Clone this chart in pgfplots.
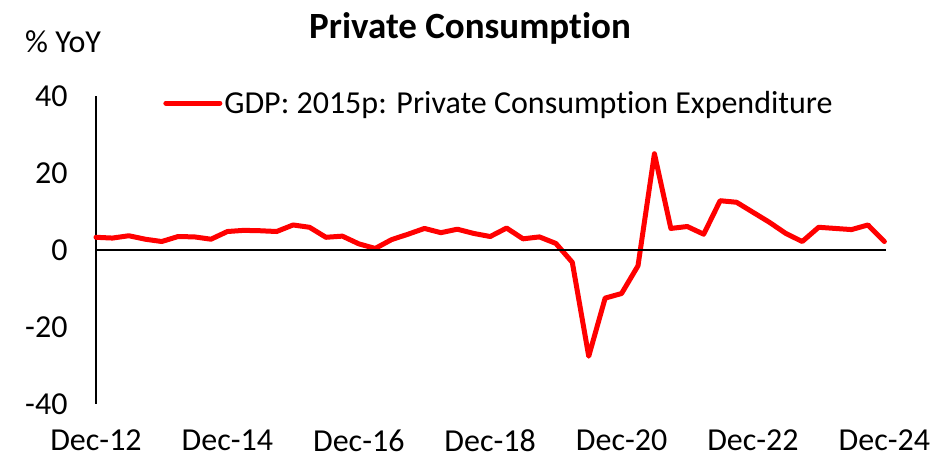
\documentclass[border=0pt]{standalone}
\usepackage{pgfplots}
\pgfplotsset{compat=1.18}
\usepackage{fontspec}
\setmainfont[Ligatures={NoCommon}]{Carlito}
\begin{document}
\begin{tikzpicture}
\begin{axis}[
  name=ax,
  scale only axis,
  width=790bp, height=308bp,
  xmin=0, xmax=48.1,
  ymin=-40, ymax=40,
  axis x line*=bottom,
  axis y line*=left,
  x axis line style={draw=none},
  y axis line style={line width=1.5bp, -},
  ytick={-40,-20,0,20,40},
  yticklabels={-40,-20,0,20,40},
  xtick={0,8,16,24,32,40,48},
  xticklabels={Dec-12,Dec-14,Dec-16,Dec-18,Dec-20,Dec-22,Dec-24},
  major tick length=0pt,
  tick label style={font=\fontsize{32bp}{38bp}\selectfont},
  yticklabel style={xshift=-25bp},
  xticklabel style={yshift=-22bp},
  clip=false,
  legend style={at={(0.085,0.977)}, anchor=west, draw=none, fill=none,
    font=\fontsize{32bp}{38bp}\selectfont, inner sep=0pt,
    /tikz/every even column/.append style={column sep=0pt}},
  legend image code/.code={\draw[#1] (0bp,0bp) -- (54bp,0bp);},
]
\addplot[red, line width=5bp, line join=round, line cap=round] coordinates {
(0,3.3) (1,3.1) (2,3.7) (3,2.8) (4,2.2) (5,3.5) (6,3.4) (7,2.8)
(8,4.8) (9,5.1) (10,5.0) (11,4.8) (12,6.5) (13,5.9) (14,3.3) (15,3.6)
(16,1.6) (17,0.4) (18,2.7) (19,4.1) (20,5.6) (21,4.5) (22,5.4) (23,4.3)
(24,3.5) (25,5.7) (26,2.9) (27,3.4) (28,1.7) (29,-3.2) (30,-27.6) (31,-12.5)
(32,-11.3) (33,-4.1) (34,25.0) (35,5.6) (36,6.1) (37,4.1) (38,12.8) (39,12.4)
(40,9.8) (41,7.2) (42,4.3) (43,2.2) (44,5.9) (45,5.6) (46,5.3) (47,6.5) (48,2.2)
};
\addlegendentry{GDP: 2015p: Private Consumption Expenditure}
\addplot[black, line width=1.5bp, forget plot] coordinates {(0,0) (48.1,0)};
\end{axis}
\pgfresetboundingbox
\path[use as bounding box] ([xshift=-96bp,yshift=-55bp]ax.south west) rectangle ([xshift=59bp,yshift=96bp]ax.north east);
\node[font=\fontsize{37bp}{44bp}\selectfont\bfseries] at ([xshift=-21bp,yshift=68bp]ax.north) {Private Consumption};
\node[font=\fontsize{32bp}{38bp}\selectfont, anchor=west, inner sep=0pt] at ([xshift=-71bp,yshift=54bp]ax.north west) {\% YoY};
\end{tikzpicture}
\end{document}
